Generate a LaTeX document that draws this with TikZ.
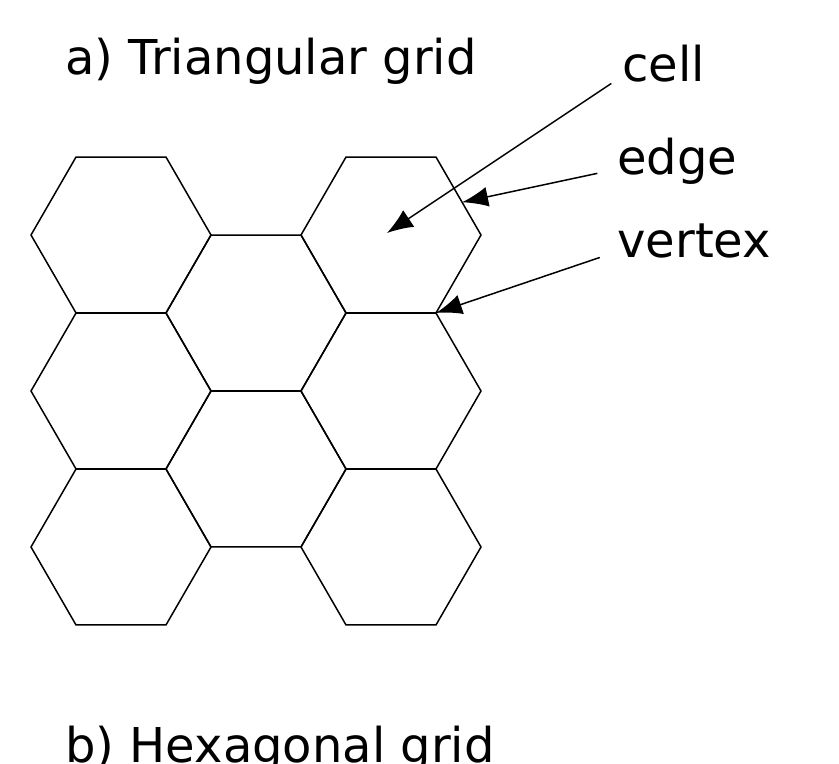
\documentclass[tikz,border=0pt]{standalone}
\usepackage{fontspec}
\setmainfont{DejaVu Sans}
\usetikzlibrary{arrows.meta,shapes.geometric,calc}

\begin{document}
\begin{tikzpicture}[x=0.5pt,y=-0.5pt,
  hexcell/.style={draw,regular polygon,regular polygon sides=6,minimum size=90pt,inner sep=0pt,outer sep=0pt,line width=0.75pt},
  caption/.style={anchor=base west,inner sep=2pt,font=\fontsize{24}{29}\selectfont},
  pointer/.style={-{Latex[length=13pt,width=10pt]},line width=0.75pt}]
  \useasboundingbox (0,0) rectangle (839,764);

  \node[caption] (tri) at (61,75) {a) Triangular grid};
  \node[caption] (hexg) at (61,762) {b) Hexagonal grid};

  \node[hexcell] (h11) at (121,235) {};
  \node[hexcell] (h12) at (121,391) {};
  \node[hexcell] (h13) at (121,547) {};
  \node[hexcell] (h21) at (256,313) {};
  \node[hexcell] (h22) at (256,469) {};
  \node[hexcell] (h31) at (391,235) {};
  \node[hexcell] (h32) at (391,391) {};
  \node[hexcell] (h33) at (391,547) {};

  \node[caption] (cell) at (618,82) {cell};
  \node[caption] (edge) at (613,175) {edge};
  \node[caption] (vertex) at (613,258) {vertex};

  \draw[pointer,shorten <=4pt] ($(cell.base west)+(0,-3)$) -- ($(h31.center)+(-4,-2)$);
  \draw[pointer,shorten <=8pt] ($(edge.base west)+(0,-5)$) -- ($(h31.corner 1)!0.58!(h31.corner 6)$);
  \draw[pointer,shorten <=7pt] ($(vertex.base west)+(0,-5)$) -- (h31.corner 5);
\end{tikzpicture}
\end{document}
